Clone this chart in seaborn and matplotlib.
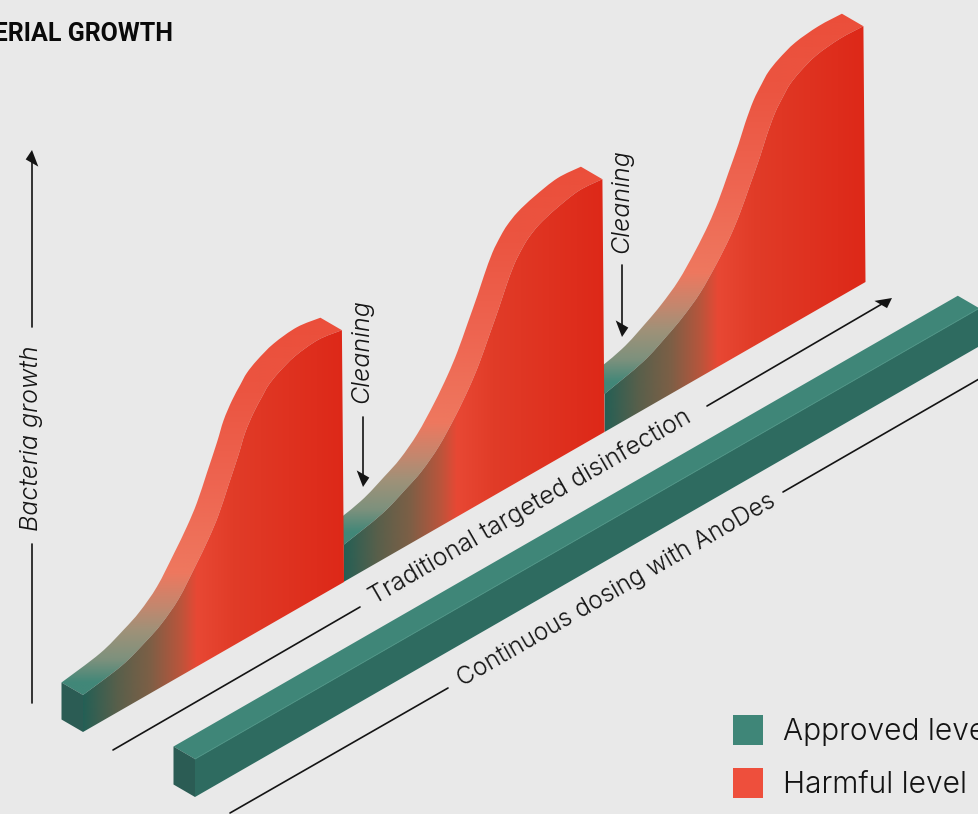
import matplotlib
matplotlib.use("Agg")
from matplotlib import pyplot as plt
from matplotlib.colors import LinearSegmentedColormap
from matplotlib.patches import PathPatch, Polygon
from matplotlib.path import Path
import numpy as np
import pandas as pd
import seaborn as sns

# growth along each wall
cycle_pos = [0, .1475, .238, .30, .366, .43, .481, .519, .557, .596, .621, .653, .685, .71, .75, .813, .902, .992]
growth_first = [37, 44, 54, 63, 78, 101, 121, 139, 163, 188, 206, 221, 232, 240, 247, 254, 257, 253]
growth_second = [37, 46, 57, 66, 81, 102, 122, 140, 162, 185, 201, 219, 231, 238, 245, 251, 256, 254]
growth_third = [38, 48, 60, 70, 84, 104, 123, 141, 163, 186, 203, 221, 233, 241, 248, 255, 258, 257]
approved_level = [38, 38]
approved_pos = [0, 3.005]

legend_labels = ["Approved level", "Harmful level"]
teal, red = "#3f8678", "#ee4f3c"
ink = "#141414"
paper = "#e9e9e9"

# isometric placement of the walls on the page
walls = [(604.5, 432), (343.5, 582), (83, 732)]
run, rise = 261, 150
depth = np.array([-21.5, -12.5])

sns.set_theme(style="white", rc={"figure.facecolor": paper, "axes.facecolor": paper})
plt.rcParams["font.family"] = ["Inter", "DejaVu Sans"]

fig = plt.figure(figsize=(9.79, 8.14), dpi=100)
ax = fig.add_axes([0, 0, 1, 1])
ax.set_axis_off()


def project(origin, t, h):
    return np.column_stack([origin[0] + run * np.asarray(t), origin[1] - rise * np.asarray(t) - np.asarray(h)])


def smooth(pts):
    # catmull-rom through the read points, as bezier segments
    verts, codes = [], []
    p = np.vstack([pts[0], pts, pts[-1]])
    for i in range(1, len(p) - 2):
        verts += [p[i] + (p[i + 1] - p[i - 1]) / 6, p[i + 1] - (p[i + 2] - p[i]) / 6, p[i + 1]]
        codes += [Path.CURVE4] * 3
    return verts, codes


def gradient(stops, extent, vertical, clip, z):
    top = max(s[0] for s in stops)
    cmap = LinearSegmentedColormap.from_list("g", [(s[0] / top, np.array(s[1]) / 255) for s in stops])
    grad = np.linspace(0, 1, 256)
    grad = grad[:, None] if vertical else grad[None, :]
    im = ax.imshow(grad, cmap=cmap, extent=extent, aspect="auto", origin="lower", interpolation="bilinear", zorder=z)
    patch = PathPatch(clip, transform=ax.transData, fc="none", ec="none")
    ax.add_patch(patch)
    im.set_clip_path(patch)


front_stops = [(0, (36, 95, 85)), (34, (88, 95, 75)), (67, (125, 95, 70)), (97, (185, 85, 60)),
               (114, (232, 72, 52)), (150, (225, 60, 40)), (262, (221, 40, 24))]
top_stops = [(0, (65, 135, 120)), (12, (65, 135, 120)), (35, (125, 145, 125)), (65, (160, 145, 120)),
             (88, (195, 135, 110)), (122, (238, 120, 95)), (215, (238, 100, 80)), (302, (235, 85, 65)),
             (384, (235, 78, 58))]

for z, (origin, growth) in enumerate(zip(walls, [growth_third, growth_second, growth_first])):
    z = 2 + z * 2
    edge = project(origin, cycle_pos, growth)
    curve, codes = smooth(edge)

    # top face, the extruded edge of the curve
    back = edge + depth
    back_curve, back_codes = smooth(back[::-1])
    top_verts = [edge[0]] + curve + [back[-1]] + back_curve + [edge[0]]
    top_codes = [Path.MOVETO] + codes + [Path.LINETO] + back_codes + [Path.CLOSEPOLY]
    low = origin[1] - 37
    gradient(top_stops, (origin[0] - 40, origin[0] + 300, low, low - 384), True, Path(top_verts, top_codes), z)

    # front face
    foot = project(origin, [1, 0], [0, 0])
    verts = [foot[1]] + [edge[0]] + curve + [foot[0]] + [foot[1]]
    vcodes = [Path.MOVETO, Path.LINETO] + codes + [Path.LINETO, Path.CLOSEPOLY]
    gradient(front_stops, (origin[0], origin[0] + 262, origin[1] + 5, origin[1] - 420), False, Path(verts, vcodes), z + 1)

# end cap of the first wall
first = walls[-1]
cap = project(first, [0, 0], [growth_first[0], 0])
ax.add_patch(Polygon([cap[0], cap[0] + depth, cap[1] + depth, cap[1]], fc="#2b5c54", ec="none", zorder=9))

# approved level bar
bar_origin = (195, 797)
bar_top = project(bar_origin, approved_pos, approved_level)
bar_foot = project(bar_origin, approved_pos, [0, 0])
ax.add_patch(Polygon([bar_top[0], bar_top[1], bar_top[1] + depth, bar_top[0] + depth], fc=teal, ec="none", zorder=3))
ax.add_patch(Polygon([bar_top[0], bar_top[1], bar_foot[1], bar_foot[0]], fc="#2e6b60", ec="none", zorder=3))
ax.add_patch(Polygon([bar_top[0], bar_foot[0], bar_foot[0] + depth, bar_top[0] + depth], fc="#2b5c54", ec="none", zorder=3))
ax.plot(bar_top[:, 0], bar_top[:, 1], color="#4d9485", linewidth=0.7, zorder=3)

# guide lines
guides = pd.DataFrame({
    "g": ["a", "a", "b", "b", "c", "c", "d", "d", "e", "e", "f", "f", "g", "g", "h", "h"],
    "x": [32, 32, 32, 32, 113, 360, 707, 887, 230, 448, 783, 979, 363, 363, 622, 622],
    "y": [703, 544, 327, 158, 750, 607, 406, 301, 813, 688, 492, 379, 417, 480, 265, 330],
})
for _, part in guides.groupby("g"):
    sns.lineplot(data=part, x="x", y="y", sort=False, estimator=None, color=ink, linewidth=1.2, ax=ax, zorder=12)

skew = np.array([6.3, 3.6])


def head(tip, direction):
    tip, direction = np.array(tip, float), np.array(direction, float)
    base = tip - 13 * direction
    ax.add_patch(Polygon([tip, base + skew, base - skew], fc=ink, ec="none", zorder=12))


head((32, 150), (0, -1))
head((363, 487), (0, 1))
head((622, 337), (0, 1))
head((892, 298), (.866, -.5))

# texts
light = dict(color=ink, fontweight=300, fontstyle="italic", ha="center", va="center", rotation_mode="anchor", zorder=12)
ax.text(32, 438, "Bacteria growth", rotation=90, fontsize=18, **light)
ax.text(362, 351, "Cleaning", rotation=90, fontsize=18, **light)
ax.text(622, 201, "Cleaning", rotation=90, fontsize=18, **light)
run_style = dict(color=ink, fontweight=300, ha="center", va="center", rotation=30, rotation_mode="anchor", zorder=12)
ax.text(530, 507, "Traditional targeted disinfection", fontsize=18, **run_style)
ax.text(617, 590, "Continuous dosing with AnoDes", fontsize=17.6, **run_style)

ax.text(173, 41, "BACTERIAL GROWTH", ha="right", va="baseline", fontsize=18, fontweight="bold",
        family=["Roboto", "DejaVu Sans"], color="#0a0a0a")

# legend swatches
swatches = pd.DataFrame({"x": [748, 748], "y": [730, 783], "label": legend_labels})
sns.scatterplot(data=swatches, x="x", y="y", hue="label", palette=[teal, red], marker="s", s=490,
                linewidth=0, legend=False, ax=ax, zorder=12)
for y, label in zip(swatches["y"], legend_labels):
    ax.text(783, y + 2, label, fontsize=21.5, color=ink, va="center", ha="left", fontweight=300, clip_on=True)

ax.set_xlim(0, 979)
ax.set_ylim(814, 0)
ax.set_xlabel("")
ax.set_ylabel("")
fig.savefig("out.png", dpi=100, facecolor=paper)
